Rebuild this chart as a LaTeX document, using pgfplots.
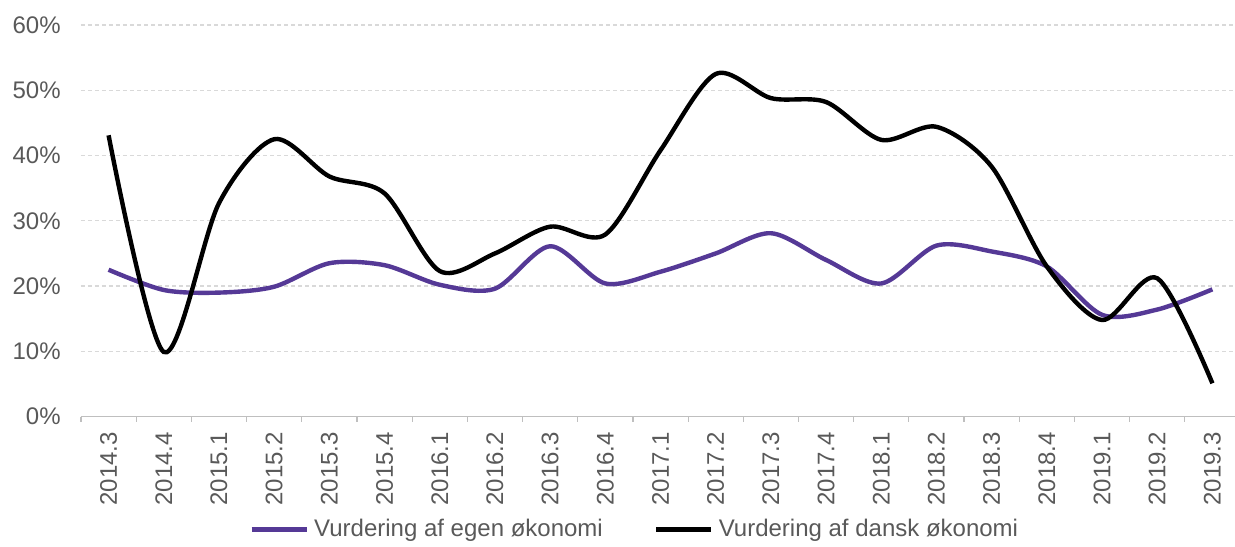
\documentclass[border=0pt]{standalone}
\usepackage{fontspec}
\setmainfont{Liberation Sans}
\usepackage{pgfplots}
\pgfplotsset{compat=1.18}

\definecolor{egen}{RGB}{85,57,150}
\definecolor{ticktext}{RGB}{89,89,89}
\definecolor{gridc}{RGB}{217,217,217}
\definecolor{axisc}{RGB}{191,191,191}

% x = quarter index (0 = 2014.3), y = percent
\pgfplotstableread{
x egen dansk
0  22.5 43.1
1  19.4 9.9
2  19.0 32.7
3  19.9 42.5
4  23.5 36.8
5  23.2 34.2
6  20.2 22.3
7  19.6 25.0
8  26.1 29.1
9  20.4 27.9
10 22.2 40.8
11 25.0 52.5
12 28.1 48.8
13 24.0 48.2
14 20.4 42.4
15 26.2 44.4
16 25.3 38.3
17 23.0 23.0
18 15.6 14.8
19 16.4 21.2
20 19.5 5.1
}\sentiment

\begin{document}
\begin{tikzpicture}
\path[use as bounding box] (-40.5pt,-65.15pt) rectangle (577pt,208.3pt);
\begin{axis}[
    at={(0,0)}, anchor=south west,
    scale only axis,
    width=579.5pt, height=195.8pt,
    xmin=-0.5, xmax=20.5,
    ymin=0, ymax=60,
    xtick={0,...,20},
    xticklabels={2014.3,2014.4,2015.1,2015.2,2015.3,2015.4,2016.1,2016.2,2016.3,2016.4,2017.1,2017.2,2017.3,2017.4,2018.1,2018.2,2018.3,2018.4,2019.1,2019.2,2019.3},
    minor xtick={-0.5,0.5,...,20.5},
    ytick={0,10,...,60},
    yticklabel={\pgfmathprintnumber{\tick}\%},
    /pgf/number format/assume math mode=true,
    tick align=outside,
    major tick length=0pt,
    minor tick length=2.5pt,
    minor x tick style={axisc, line width=0.6pt},
    axis x line*=bottom,
    axis y line*=left,
    x axis line style={axisc, line width=0.6pt, -},
    y axis line style={draw=none},
    ymajorgrids,
    major grid style={gridc, line width=0.6pt, dash pattern=on 2pt off 1.5pt},
    tick label style={font=\fontsize{12}{14}\selectfont, text=ticktext},
    xticklabel style={rotate=90, anchor=east, inner sep=0pt},
    xticklabel shift=7.5pt,
    yticklabel style={anchor=east, inner sep=0pt},
    yticklabel shift=10pt,
    legend style={at={(0.479,-0.289)}, anchor=center, draw=none, fill=none,
        font=\fontsize{12}{14}\selectfont, text=ticktext,
        legend columns=2, inner sep=0pt,
        nodes={inner xsep=2.5pt},
        /tikz/every even column/.append style={column sep=23pt}},
    legend cell align=left,
    legend image code/.code={\draw[#1, line width=2.5pt] (0pt,0pt) -- (27.5pt,0pt);},
]
\addplot[egen, line width=2.2pt, smooth, no markers] table[x=x, y=egen] {\sentiment};
\addlegendentry{Vurdering af egen økonomi}
\addplot[black, line width=2.2pt, smooth, no markers] table[x=x, y=dansk] {\sentiment};
\addlegendentry{Vurdering af dansk økonomi}
\end{axis}
\end{tikzpicture}
\end{document}
